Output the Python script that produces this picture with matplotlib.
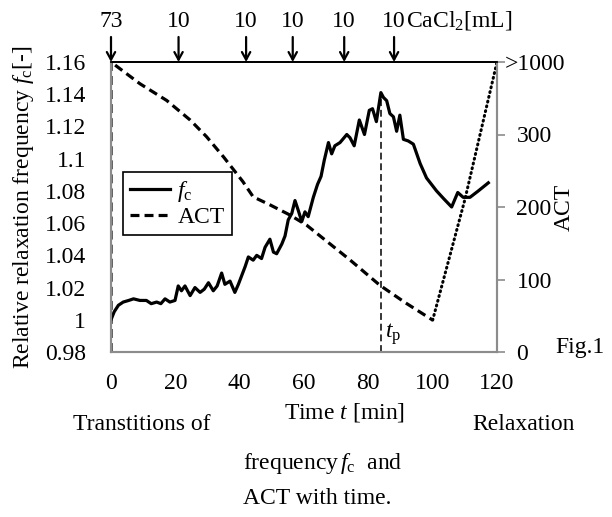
import numpy as np
import matplotlib.pyplot as plt
from matplotlib.lines import Line2D
from matplotlib.transforms import ScaledTranslation

plt.rcParams['font.family'] = 'Liberation Serif'
plt.rcParams['mathtext.fontset'] = 'custom'
plt.rcParams['mathtext.rm'] = 'Liberation Serif'
plt.rcParams['mathtext.it'] = 'Liberation Serif:italic'

# relative relaxation frequency f_c
t_fc = [0, 1, 2.3, 3.8, 5.5, 7, 9, 11, 12.5, 14.2,
        15.5, 16.8, 18.3, 19.9, 20.9, 21.9, 23.0, 24.6, 26.1, 27.7,
        29.0, 30.3, 31.8, 33.0, 34.4, 35.4, 37.0, 38.5, 39.6, 41.7,
        42.7, 44.2, 45.3, 46.8, 47.9, 49.4, 50.5, 51.5, 53.1, 54.1,
        55.1, 56.2, 57.2, 58.2, 59.3, 60.3, 61.3, 62.9, 64.2, 65.3,
        66.3, 67.6, 68.6, 69.6, 71.2, 73.3, 74.3, 75.6, 77.2, 78.8,
        80.3, 81.3, 82.5, 83.9, 84.7, 85.7, 86.7, 87.8, 88.8, 89.8,
        90.9, 92.4, 94.0, 96.1, 98.1, 101.2, 103.5, 105.9, 107.8, 109.5,
        111.6, 114.2, 117.3]
fc = [1.000, 1.005, 1.009, 1.011, 1.012, 1.013, 1.012, 1.012, 1.010, 1.011,
      1.010, 1.013, 1.011, 1.012, 1.021, 1.018, 1.021, 1.015, 1.020, 1.017,
      1.019, 1.023, 1.018, 1.021, 1.029, 1.022, 1.024, 1.017, 1.022, 1.033,
      1.039, 1.037, 1.040, 1.038, 1.045, 1.050, 1.042, 1.041, 1.047, 1.052,
      1.062, 1.066, 1.074, 1.068, 1.061, 1.067, 1.064, 1.076, 1.084, 1.089,
      1.099, 1.110, 1.103, 1.108, 1.110, 1.115, 1.113, 1.108, 1.124, 1.115,
      1.130, 1.131, 1.123, 1.141, 1.138, 1.136, 1.128, 1.126, 1.117, 1.127,
      1.112, 1.111, 1.109, 1.097, 1.088, 1.080, 1.075, 1.070, 1.079, 1.076,
      1.076, 1.080, 1.085]

# ACT (400 on the axis stands for >1000)
t_act = [0, 0, 9, 17.3, 24.6, 29.7, 35, 41, 44.2, 49.4, 55.6, 60.8, 74.3, 83.6, 91.5, 100]
act = [0, 400, 370, 347, 320, 297, 269, 235, 214, 203, 189, 175, 127, 92, 68, 44]
t_act_relax = [100, 110, 120]
act_relax = [44, 210, 400]

# CaCl2 additions
t_add = [0, 21, 42, 56.5, 72.5, 88]
add_ml = ['73', '10', '10', '10', '10', '10']

t_p = 84
fc_ticks = [0.98, 1.0, 1.02, 1.04, 1.06, 1.08, 1.1, 1.12, 1.14, 1.16]
act_ticks = [0, 100, 200, 300, 400]
act_labels = ['0', '100', '200', '300', '>1000']

W, H = 612, 517
fig = plt.figure(figsize=(W / 100, H / 100), dpi=100)
ax = fig.add_axes([111 / W, 1 - 352 / H, 386 / W, 290 / H])
ax2 = ax.twinx()

fs = 17
gray = '#8c8c8c'

ax.plot(t_fc, fc, color='black', lw=2.3)
ax.plot([t_p, t_p], [0.98, 1.137], color='black', lw=1.1, ls=(0, (4.5, 2.5)))
ax.text(t_p + 1.2, 0.983, r'$t_{\mathrm{p}}$', fontsize=fs, ha='left', va='bottom')

ax2.plot(t_act, act, color='black', lw=2.3, ls=(0, (2.8, 1.6)))
ax2.plot(t_act_relax, act_relax, color='black', lw=2.2, ls=(0, (0.3, 1.3)),
         dash_capstyle='round')

ax.set_xlim(0, 120)
ax.set_ylim(0.98, 1.16)
ax2.set_ylim(0, 400)
ax.set_xticks(range(0, 121, 20))
ax.set_yticks(fc_ticks)
ax.set_yticklabels(['%g' % v for v in fc_ticks])
ax2.set_yticks(act_ticks)
ax2.set_yticklabels(act_labels)

ax.tick_params(axis='both', length=0, labelsize=fs)
ax.tick_params(axis='y', pad=18)
ax.tick_params(axis='x', pad=15)
ax2.tick_params(axis='y', length=6, width=1.2, color=gray, labelsize=fs, pad=8)
# the ">1000" label sits a little further left
top_lab = ax2.get_yticklabels()[-1]
top_lab.set_transform(top_lab.get_transform() + ScaledTranslation(-0.12, 0, fig.dpi_scale_trans))

for a in (ax, ax2):
    for s in ('left', 'right', 'bottom'):
        a.spines[s].set_color(gray)
        a.spines[s].set_linewidth(1.5)
    a.spines['top'].set_color('black')
    a.spines['top'].set_linewidth(1.3)

ax.set_ylabel(r'Relative relaxation frequency $f_{\mathrm{c}}$[-]', fontsize=fs, labelpad=6)
ax2.set_ylabel('ACT', fontsize=fs, labelpad=-8)

# addition arrows above the plot
for t, lab in zip(t_add, add_ml):
    ax.annotate('', xy=(t, 1.0), xycoords=('data', 'axes fraction'),
                xytext=(t, 1.0 + 25 / 290), textcoords=('data', 'axes fraction'),
                arrowprops=dict(arrowstyle='->,head_length=0.55,head_width=0.3',
                                color='black', lw=1.6, shrinkA=0, shrinkB=0))
    ax.text(t, 1.0 + 30 / 290, lab, transform=ax.get_xaxis_transform(),
            ha='center', va='bottom', fontsize=fs)
ax.annotate(r'CaCl$_2$[mL]', xy=(t_add[-1], 1.0 + 30 / 290),
            xycoords=('data', 'axes fraction'), xytext=(8.5, 0),
            textcoords='offset points', ha='left', va='bottom', fontsize=fs)

handles = [Line2D([], [], color='black', lw=2.3),
           Line2D([], [], color='black', lw=2.3, ls=(0, (2.8, 1.6)))]
leg = ax2.legend(handles, [r'$f_{\mathrm{c}}$', 'ACT'], loc='upper left',
                 bbox_to_anchor=(12 / 386, 180 / 290), borderaxespad=0,
                 fontsize=fs, fancybox=False, framealpha=1, edgecolor='black',
                 handlelength=1.7, handletextpad=0.3, labelspacing=0.1,
                 borderpad=0.3)
leg.get_frame().set_linewidth(1.2)

# caption text
fig.text(344 / W, 1 - 413 / H, r'Time $t$ [min]', fontsize=fs, ha='center', va='center')
fig.text(142 / W, 1 - 425 / H, 'Transtitions of', fontsize=fs, ha='center', va='center')
fig.text(524 / W, 1 - 425 / H, 'Relaxation', fontsize=fs, ha='center', va='center')
fig.text(323 / W, 1 - 463 / H, r'frequency$\,f_{\mathrm{c}}$  and', fontsize=fs,
         ha='center', va='center')
fig.text(317 / W, 1 - 498 / H, 'ACT with time.', fontsize=fs, ha='center', va='center')
fig.text(580 / W, 1 - 347 / H, 'Fig.1', fontsize=fs, ha='center', va='center')

fig.savefig('out.png', dpi=100)
